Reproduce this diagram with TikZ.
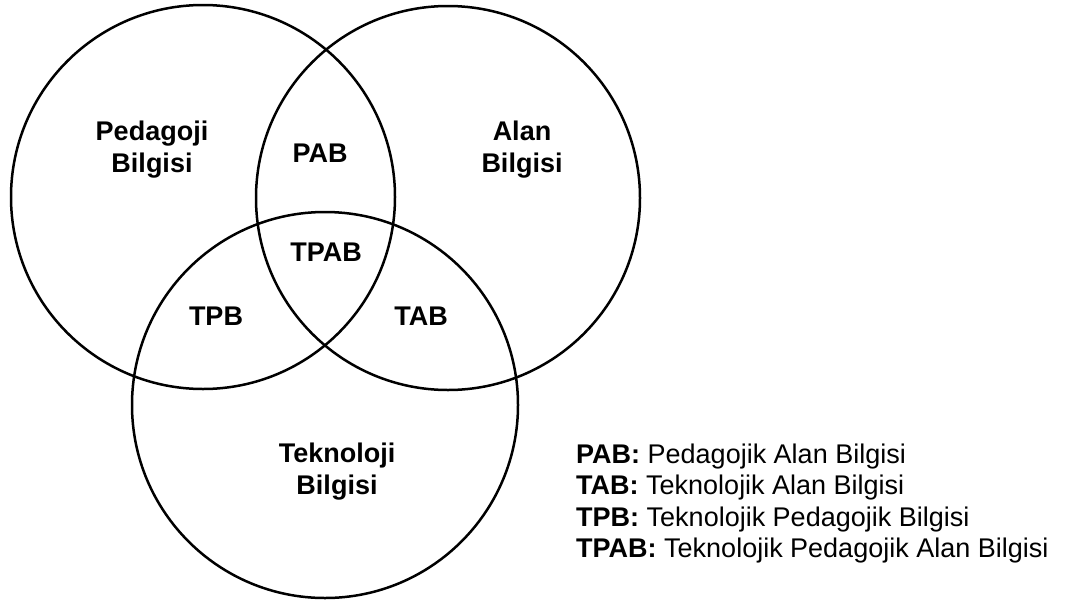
\documentclass[tikz,border=0pt]{standalone}
\usepackage{fontspec}
\setmainfont{Liberation Sans}

\begin{document}
\begin{tikzpicture}[
        x=1pt,
        y=-1pt,
        set/.style={
            draw,
            circle,
            line width=2.5pt,
            inner sep=0pt
        },
        lbl/.style={
            align=center,
            inner sep=0pt,
            font=\fontsize{27}{32}\selectfont\bfseries
        },
        key/.style={
            anchor=base west,
            inner sep=0pt,
            font=\fontsize{27}{32}\selectfont
        }
    ]

        \useasboundingbox (0,0) rectangle (1065,603);

        % the three sets
        \node[set, minimum size=384pt] (pedagoji) at (203,197) {};
        \node[set, minimum size=384pt] (alan) at (448,198) {};
        \node[set, minimum size=386pt] (teknoloji) at (325,405) {};

        % region labels
        \node[lbl] (pb) at (152,150) {Pedagoji\\Bilgisi};
        \node[lbl] (ab) at (522,150) {Alan\\Bilgisi};
        \node[lbl] (tb) at (337,472) {Teknoloji\\Bilgisi};
        \node[lbl] (pab) at (320,153) {PAB};
        \node[lbl] (tpab) at (326,252) {TPAB};
        \node[lbl] (tpb) at (216,316) {TPB};
        \node[lbl] (tab) at (421,316) {TAB};

        % legend
        \node[key] (kpab) at (576,463) {\textbf{PAB:} Pedagojik Alan Bilgisi};
        \node[key] (ktab) at ([yshift=-31.5pt]kpab.base west) {\textbf{TAB:} Teknolojik Alan Bilgisi};
        \node[key] (ktpb) at ([yshift=-31.5pt]ktab.base west) {\textbf{TPB:} Teknolojik Pedagojik Bilgisi};
        \node[key] (ktpab) at ([yshift=-31.5pt]ktpb.base west) {\textbf{TPAB:} Teknolojik Pedagojik Alan Bilgisi};

    \end{tikzpicture}
\end{document}
